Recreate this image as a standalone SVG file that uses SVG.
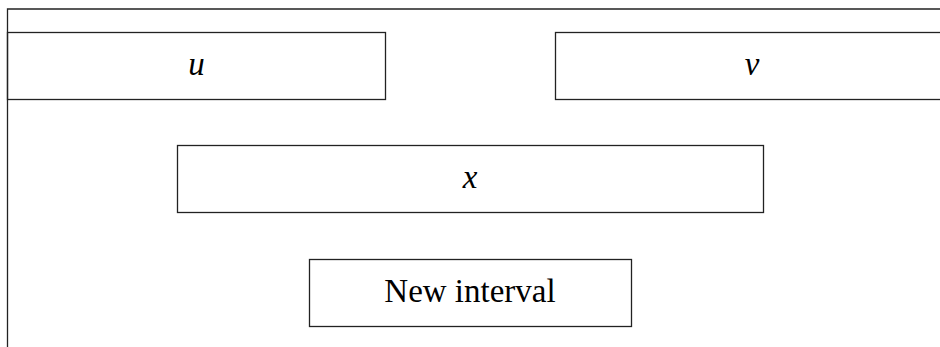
<svg xmlns="http://www.w3.org/2000/svg" width="940" height="347" viewBox="0 0 940 347">
<style>
.box{fill:none;stroke:#222;stroke-width:1.3}
.frame{fill:none;stroke:#222;stroke-width:1.3}
.lbl{font-family:"Liberation Serif","DejaVu Serif",serif;font-size:33px;fill:#000;text-anchor:middle}
.it{font-style:italic}
</style>
<rect width="940" height="347" fill="#fff"/>
<g id="frame">
<path class="frame" d="M7.5,347 V9 H940"/>
</g>
<g id="node-u">
<rect class="box" x="7.5" y="32.5" width="378" height="67"/>
<text class="lbl it" x="196.5" y="75">u</text>
</g>
<g id="node-v">
<rect class="box" x="555.5" y="32.5" width="394" height="67"/>
<text class="lbl it" x="752" y="75">v</text>
</g>
<g id="node-x">
<rect class="box" x="177.5" y="145.5" width="586" height="67"/>
<text class="lbl it" x="470" y="188">x</text>
</g>
<g id="node-new">
<rect class="box" x="309.5" y="259.5" width="322" height="67"/>
<text class="lbl" x="470" y="302">New interval</text>
</g>
<g id="connectors"></g>
</svg>
